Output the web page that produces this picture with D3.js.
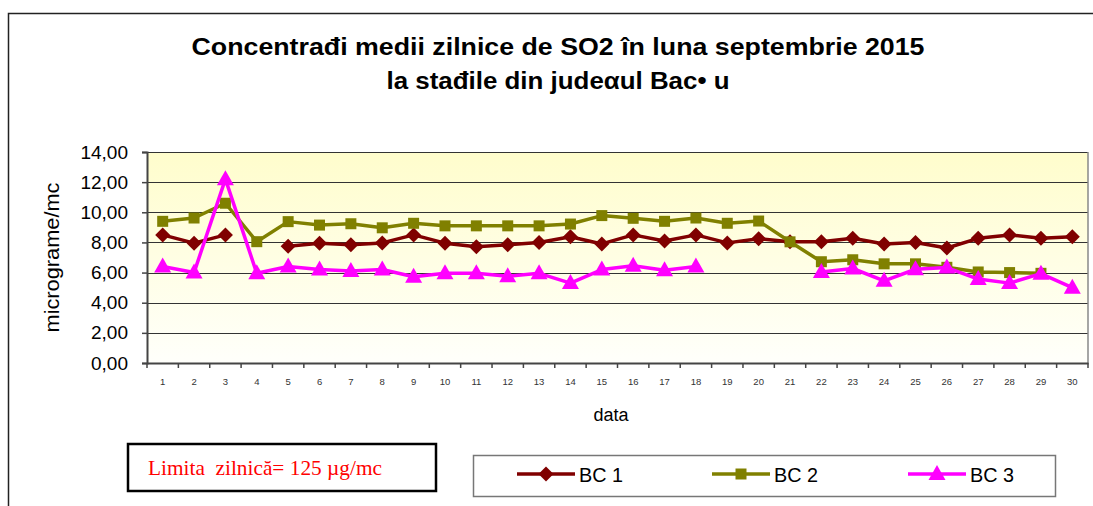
<!DOCTYPE html>
<html>
<head>
<meta charset="utf-8">
<script src="https://cdn.jsdelivr.net/npm/d3@7"></script>
<style>
  html, body { margin: 0; padding: 0; background: #fff; }
  svg { display: block; }
</style>
</head>
<body>
<svg id="chart" width="1093" height="506"></svg>
<script>
const days = d3.range(1, 31).map(String);
const yTicks = [0, 2, 4, 6, 8, 10, 12, 14];
const titleLines = ["Concentrađi medii zilnice de SO2 în luna septembrie 2015", "la stađile din judeαul Bac\u2022 u"];
const seriesNames = ["BC 1", "BC 2", "BC 3"];
const bc1 = [8.5, 7.95, 8.5, null, 7.75, 7.95, 7.85, 7.97, 8.5, 7.95, 7.72, 7.85, 8.0, 8.38, 7.9, 8.5, 8.1, 8.5, 7.97, 8.25, 8.04, 8.04, 8.28, 7.9, 8.0, 7.63, 8.27, 8.5, 8.27, 8.38];
const bc2 = [9.4, 9.62, 10.6, 8.05, 9.38, 9.15, 9.24, 8.97, 9.27, 9.1, 9.1, 9.1, 9.1, 9.22, 9.78, 9.6, 9.4, 9.62, 9.27, 9.42, 8.04, 6.72, 6.85, 6.58, 6.58, 6.35, 6.04, 6.0, 5.95, null];
const bc3 = [6.4, 6.0, 12.2, 5.95, 6.4, 6.2, 6.1, 6.2, 5.72, 5.95, 5.95, 5.75, 5.95, 5.3, 6.2, 6.45, 6.15, 6.4, null, null, null, 6.04, 6.27, 5.45, 6.22, 6.33, 5.57, 5.3, 5.93, 5.0];
const colors = ["#800000", "#808000", "#FF00FF"];
const markers = ["diamond", "square", "triangle"];

(function () {
const svg = d3.select("#chart");

// outer frame (cut off on right and bottom)
svg.append("rect").attr("x", 8.5).attr("y", 13.5).attr("width", 1200).attr("height", 600)
  .attr("fill", "#fff").attr("stroke", "#222").attr("stroke-width", 1.5);

// title
const titleWidths = [733, 343];
svg.append("g").selectAll("text").data(titleLines).join("text")
  .attr("x", 558).attr("y", (d, i) => 55 + i * 34)
  .attr("text-anchor", "middle")
  .attr("font-family", "Liberation Sans, Arial, sans-serif")
  .attr("font-weight", "bold").attr("font-size", 23)
  .attr("textLength", (d, i) => titleWidths[i]).attr("lengthAdjust", "spacingAndGlyphs")
  .attr("fill", "#000")
  .text(d => d);

const pLeft = 147, pRight = 1088, pTop = 152, pBottom = 363;
const x = d3.scaleBand().domain(days).range([pLeft, pRight]);
const y = d3.scaleLinear().domain([0, 14]).range([pBottom, pTop]);

// background gradient
const defs = svg.append("defs");
const grad = defs.append("linearGradient").attr("id", "bg").attr("x1", 0).attr("y1", 0).attr("x2", 0).attr("y2", 1);
grad.append("stop").attr("offset", "0%").attr("stop-color", "#FFFDCC");
grad.append("stop").attr("offset", "100%").attr("stop-color", "#FFFFFB");
svg.append("rect").attr("x", pLeft).attr("y", pTop).attr("width", pRight - pLeft).attr("height", pBottom - pTop)
  .attr("fill", "url(#bg)");

// gridlines
svg.append("g").selectAll("line").data(yTicks.filter(t => t > 0)).join("line")
  .attr("x1", pLeft).attr("x2", pRight)
  .attr("y1", d => Math.round(y(d)) + 0.5).attr("y2", d => Math.round(y(d)) + 0.5)
  .attr("stroke", "#333").attr("stroke-width", 1.2);

// right border
svg.append("line").attr("x1", pRight).attr("x2", pRight).attr("y1", pTop).attr("y2", pBottom)
  .attr("stroke", "#888").attr("stroke-width", 1.5);

// y axis
const yAxis = svg.append("g").attr("transform", `translate(${pLeft},0)`)
  .call(d3.axisLeft(y).tickValues(yTicks).tickSize(5).tickPadding(14)
    .tickFormat(d => d3.format(".2f")(d).replace(".", ",")));
yAxis.select(".domain").attr("stroke", "#444").attr("stroke-width", 2);
yAxis.selectAll(".tick line").attr("stroke", "#444").attr("stroke-width", 1.5);
yAxis.selectAll("text").attr("font-family", "Liberation Sans, Arial, sans-serif")
  .attr("font-size", 19).attr("fill", "#000");

// x axis
const xAxis = svg.append("g").attr("transform", `translate(0,${pBottom})`)
  .call(d3.axisBottom(x).tickSize(0).tickPadding(15));
xAxis.select(".domain").attr("stroke", "#444").attr("stroke-width", 2);
xAxis.selectAll("text").attr("font-family", "Liberation Sans, Arial, sans-serif")
  .attr("font-size", 9.5).attr("fill", "#333");
// ticks between categories
svg.append("g").selectAll("line").data(days).join("line")
  .attr("x1", d => x(d)).attr("x2", d => x(d))
  .attr("y1", pBottom).attr("y2", pBottom + 5)
  .attr("stroke", "#444").attr("stroke-width", 1.5);
svg.append("line").attr("x1", pRight).attr("x2", pRight).attr("y1", pBottom).attr("y2", pBottom + 5)
  .attr("stroke", "#444").attr("stroke-width", 1.5);

// axis titles
svg.append("text").attr("transform", `translate(59,${(pTop + pBottom) / 2}) rotate(-90)`)
  .attr("text-anchor", "middle")
  .attr("font-family", "Liberation Sans, Arial, sans-serif").attr("font-size", 20)
  .attr("textLength", 150).attr("lengthAdjust", "spacingAndGlyphs")
  .text("micrograme/mc");
svg.append("text").attr("x", 611).attr("y", 421).attr("text-anchor", "middle")
  .attr("font-family", "Liberation Sans, Arial, sans-serif").attr("font-size", 18)
  .text("data");

// marker paths
function markerPath(type) {
  if (type === "diamond") return "M0,-7.5L7.5,0L0,7.5L-7.5,0Z";
  if (type === "square") return "M-5.5,-5.5H5.5V5.5H-5.5Z";
  return "M0,-9L8.5,6L-8.5,6Z";
}

const series = [bc1, bc2, bc3];
const cx = d => x(d) + x.bandwidth() / 2;
const line = d3.line().defined(d => d.v != null).x(d => cx(d.day)).y(d => y(d.v));

series.forEach((vals, i) => {
  const data = days.map((day, j) => ({ day, v: vals[j] }));
  const g = svg.append("g");
  g.append("path").datum(data).attr("d", line)
    .attr("fill", "none").attr("stroke", colors[i]).attr("stroke-width", 3.5)
    .attr("stroke-linejoin", "round");
  g.selectAll("path.m").data(data.filter(d => d.v != null)).join("path")
    .attr("class", "m")
    .attr("transform", d => `translate(${cx(d.day)},${y(d.v)})`)
    .attr("d", markerPath(markers[i]))
    .attr("fill", colors[i]);
});

// limit box
svg.append("rect").attr("x", 128).attr("y", 444).attr("width", 308).attr("height", 47)
  .attr("fill", "#fff").attr("stroke", "#000").attr("stroke-width", 2.5);
svg.append("text").attr("x", 148).attr("y", 475)
  .attr("font-family", "Liberation Serif, Times New Roman, serif").attr("font-size", 21)
  .attr("fill", "#FF0000")
  .attr("textLength", 234).attr("lengthAdjust", "spacingAndGlyphs")
  .attr("xml:space", "preserve")
  .text("Limita  zilnică= 125 µg/mc");

// legend
svg.append("rect").attr("x", 473.5).attr("y", 455.5).attr("width", 582).attr("height", 41)
  .attr("fill", "#fff").attr("stroke", "#777").attr("stroke-width", 1.5);
const legendX = [517, 712, 908];
seriesNames.forEach((name, i) => {
  const g = svg.append("g").attr("transform", `translate(${legendX[i]},474)`);
  g.append("line").attr("x1", 0).attr("x2", 58).attr("y1", 0).attr("y2", 0)
    .attr("stroke", colors[i]).attr("stroke-width", 3.5);
  g.append("path").attr("transform", "translate(29,0)").attr("d", markerPath(markers[i]))
    .attr("fill", colors[i]);
  g.append("text").attr("x", 62).attr("y", 7.5)
    .attr("font-family", "Liberation Sans, Arial, sans-serif").attr("font-size", 21)
    .attr("textLength", 44).attr("lengthAdjust", "spacingAndGlyphs")
    .attr("fill", "#000").text(name);
});
})();
</script>
</body>
</html>
